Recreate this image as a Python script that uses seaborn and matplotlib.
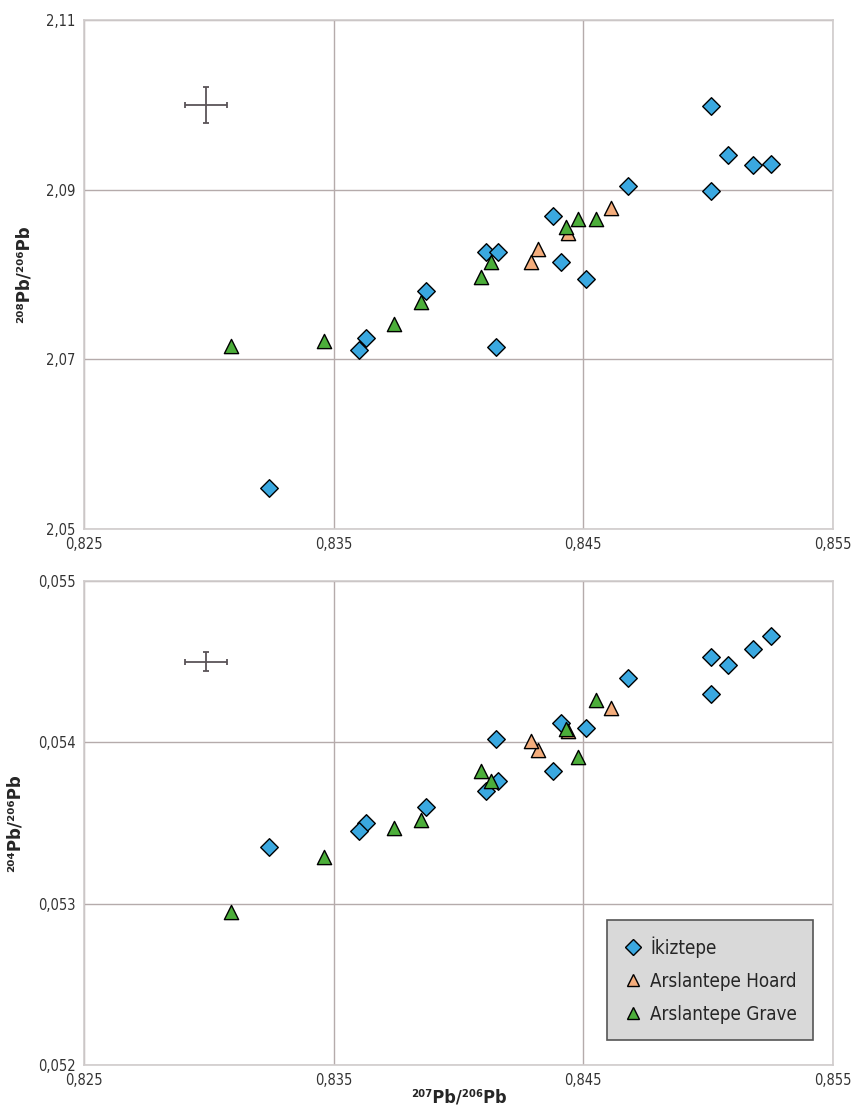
import matplotlib
matplotlib.use("Agg")
import matplotlib.pyplot as plt
import seaborn as sns
import pandas as pd
from matplotlib.lines import Line2D

# ---------------------------------------------------------------------------
# Data
# ---------------------------------------------------------------------------
IKIZ_X    = [0.8501, 0.8508, 0.8518, 0.8525, 0.8501, 0.8468, 0.8438, 0.8441,
             0.8451, 0.8411, 0.8416, 0.8387, 0.8363, 0.8360, 0.8415, 0.8324]
IKIZ_208  = [2.0998, 2.0941, 2.0929, 2.0930, 2.0898, 2.0904, 2.0869, 2.0815,
             2.0795, 2.0827, 2.0827, 2.0780, 2.0725, 2.0711, 2.0714, 2.0548]
IKIZ_204  = [0.05453, 0.05448, 0.05458, 0.05466, 0.05430, 0.05440, 0.05382, 0.05412,
             0.05409, 0.05370, 0.05376, 0.05360, 0.05350, 0.05345, 0.05402, 0.05335]

HOARD_X   = [0.8461, 0.8432, 0.8429, 0.8444]
HOARD_208 = [2.0878, 2.0830, 2.0815, 2.0849]
HOARD_204 = [0.05421, 0.05395, 0.05401, 0.05407]

GRAVE_X   = [0.8309, 0.8346, 0.8374, 0.8385, 0.8409, 0.8413, 0.8443, 0.8448, 0.8455]
GRAVE_208 = [2.0716, 2.0722, 2.0742, 2.0767, 2.0797, 2.0815, 2.0856, 2.0865, 2.0865]
GRAVE_204 = [0.05295, 0.05329, 0.05347, 0.05352, 0.05382, 0.05376, 0.05408, 0.05391, 0.05426]

SITES = ["İkiztepe", "Arslantepe Hoard", "Arslantepe Grave"]

# analytical uncertainty cross (centre, half-widths)
ERR_X, ERR_XERR = 0.8299, 0.00084
ERR_208, ERR_208ERR = 2.1000, 0.0021
ERR_204, ERR_204ERR = 0.05450, 0.000057

X_TICKS  = [0.825, 0.835, 0.845, 0.855]
X_LABELS = ["0,825", "0,835", "0,845", "0,855"]
Y1_TICKS  = [2.05, 2.07, 2.09, 2.11]
Y1_LABELS = ["2,05", "2,07", "2,09", "2,11"]
Y2_TICKS  = [0.052, 0.053, 0.054, 0.055]
Y2_LABELS = ["0,052", "0,053", "0,054", "0,055"]

PALETTE = {"İkiztepe": "#3aa8e0", "Arslantepe Hoard": "#f4ad7c",
           "Arslantepe Grave": "#4cae3a"}
MARKERS = {"İkiztepe": "D", "Arslantepe Hoard": "^", "Arslantepe Grave": "^"}

df = pd.DataFrame({
    "x":    IKIZ_X + HOARD_X + GRAVE_X,
    "y208": IKIZ_208 + HOARD_208 + GRAVE_208,
    "y204": IKIZ_204 + HOARD_204 + GRAVE_204,
    "site": [SITES[0]] * len(IKIZ_X) + [SITES[1]] * len(HOARD_X) + [SITES[2]] * len(GRAVE_X),
})

# ---------------------------------------------------------------------------
# Plot
# ---------------------------------------------------------------------------
sns.set_style("white")
plt.rcParams["font.family"] = ["DejaVu Sans"]
plt.rcParams["font.stretch"] = "condensed"

fig = plt.figure(figsize=(8.52, 11.05), dpi=100)
ax1 = fig.add_axes([0.0986, 0.5213, 0.8791, 0.4607])
ax2 = fig.add_axes([0.0986, 0.0362, 0.8791, 0.4380])

GRID_C = "#b5abab"


def draw_panel(ax, ycol, yticks, ylabels, ylabel, err_y, err_yerr):
    ax.errorbar([ERR_X], [err_y], xerr=[ERR_XERR], yerr=[err_yerr], fmt="none",
                ecolor="#5a5458", elinewidth=1.3, capsize=2.5, capthick=1.3, zorder=3)
    for site in SITES:
        sub = df[df["site"] == site]
        sns.scatterplot(data=sub, x="x", y=ycol, color=PALETTE[site],
                        marker=MARKERS[site], s=80 if site == SITES[0] else 105,
                        edgecolor="black", linewidth=1.0, ax=ax, zorder=4, legend=False)
    ax.set_xlim(X_TICKS[0], X_TICKS[-1])
    ax.set_ylim(yticks[0], yticks[-1])
    ax.set_xticks(X_TICKS)
    ax.set_xticklabels(X_LABELS)
    ax.set_yticks(yticks)
    ax.set_yticklabels(ylabels)
    ax.grid(True, color=GRID_C, linewidth=1.0)
    ax.set_axisbelow(True)
    for sp in ax.spines.values():
        sp.set_color("#d0cccc")
        sp.set_linewidth(1.2)
    ax.tick_params(axis="both", labelsize=10.5, colors="#333333", length=3,
                   color="#d0cccc", pad=3)
    ax.set_ylabel(ylabel, fontsize=12, fontweight="bold", fontstretch="normal", labelpad=10)
    ax.set_xlabel("")


draw_panel(ax1, "y208", Y1_TICKS, Y1_LABELS, "²⁰⁸Pb/²⁰⁶Pb", ERR_208, ERR_208ERR)
draw_panel(ax2, "y204", Y2_TICKS, Y2_LABELS, "²⁰⁴Pb/²⁰⁶Pb", ERR_204, ERR_204ERR)
ax2.set_xlabel("²⁰⁷Pb/²⁰⁶Pb", fontsize=13, fontweight="bold", labelpad=0)

handles = [Line2D([], [], linestyle="none", marker=MARKERS[s], markersize=8 if s == SITES[0] else 9,
                  markerfacecolor=PALETTE[s], markeredgecolor="black", markeredgewidth=1.0)
           for s in SITES]
leg = ax2.legend(handles, SITES, loc="lower right", bbox_to_anchor=(0.973, 0.052),
                 borderaxespad=0, frameon=True, fancybox=False, fontsize=13.5,
                 labelspacing=0.75, handletextpad=0.35, borderpad=0.85, handlelength=1.1)
leg.get_frame().set_facecolor("#d9d9d9")
leg.get_frame().set_edgecolor("#555555")
leg.get_frame().set_linewidth(1.2)
leg.get_frame().set_alpha(1)

fig.savefig("out.png", dpi=100)
